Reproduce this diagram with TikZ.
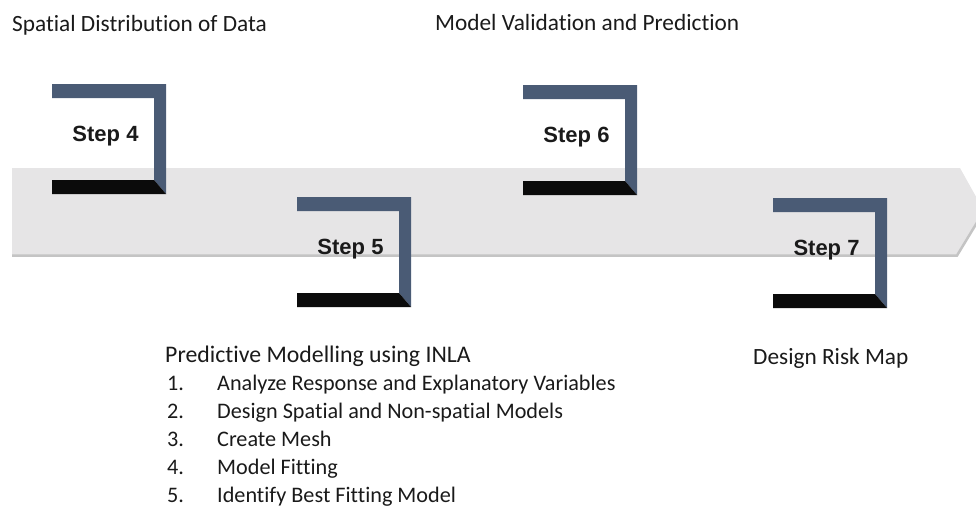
\documentclass[tikz,border=0pt]{standalone}
\usepackage{fontspec}
\setmainfont{Carlito}[Ligatures=NoCommon]
\newfontfamily\stepfont{Liberation Sans}
\definecolor{bandgray}{HTML}{E6E5E6}
\definecolor{bandedge}{HTML}{C4C4C4}
\definecolor{slate}{HTML}{4A5B75}
\definecolor{barblack}{HTML}{0B0B0B}
\definecolor{txt}{HTML}{1A1A1A}
\tikzset{
  steptext/.style={anchor=base, inner sep=0pt, text=txt,
    font=\stepfont\bfseries\fontsize{22}{26}\selectfont},
  label/.style={anchor=base west, inner sep=0pt, text=txt,
    font=\fontsize{23.3}{28}\selectfont},
  listitem/.style={anchor=base west, inner sep=0pt, text=txt,
    font=\fontsize{22.2}{26}\selectfont},
}
\newcommand\drawstepbox[3]{%
  \fill[slate] (#1,#2) -- (#1+114,#2) -- (#1+114,#2+110) -- (#1+102,#2+96)
     -- (#1+102,#2+14) -- (#1,#2+14) -- cycle;
  \fill[barblack] (#1,#2+96) -- (#1+102,#2+96) -- (#1+114,#2+110)
     -- (#1,#2+110) -- cycle;
  \node[steptext] (step#3) at (#1+53.5,#2+57) {Step #3};
}
\begin{document}
\begin{tikzpicture}[x=1pt,y=-1pt]
  \useasboundingbox (0,0) rectangle (976,511);
  \clip (0,0) rectangle (976,511);
  % band arrow
  \fill[bandgray] (12,168) -- (960,168) -- (984,211) -- (957,256) -- (12,256) -- cycle;
  \draw[bandedge, line width=2.5pt] (12,255.5) -- (957,255.5) -- (984,211);
  % step boxes
  \drawstepbox{52}{84}{4}
  \drawstepbox{297}{197}{5}
  \drawstepbox{523}{85}{6}
  \drawstepbox{773}{198}{7}
  % labels
  \node[label] (lab4) at (12,32) {Spatial Distribution of Data};
  \node[label] (lab6) at (435,31) {Model Validation and Prediction};
  \node[label] (lab7) at (753,364) {Design Risk Map};
  \node[label, font=\fontsize{23.8}{28}\selectfont] (lab5) at (165,362) {Predictive Modelling using INLA};
  \node[listitem] (n1) at (167,390) {1.};
  \node[listitem] (t1) at (217,390) {Analyze Response and Explanatory Variables};
  \node[listitem] (n2) at (167,418) {2.};
  \node[listitem] (t2) at (217,418) {Design Spatial and Non-spatial Models};
  \node[listitem] (n3) at (167,446) {3.};
  \node[listitem] (t3) at (217,446) {Create Mesh};
  \node[listitem] (n4) at (167,474) {4.};
  \node[listitem] (t4) at (217,474) {Model Fitting};
  \node[listitem] (n5) at (167,502) {5.};
  \node[listitem] (t5) at (217,502) {Identify Best Fitting Model};
\end{tikzpicture}
\end{document}
